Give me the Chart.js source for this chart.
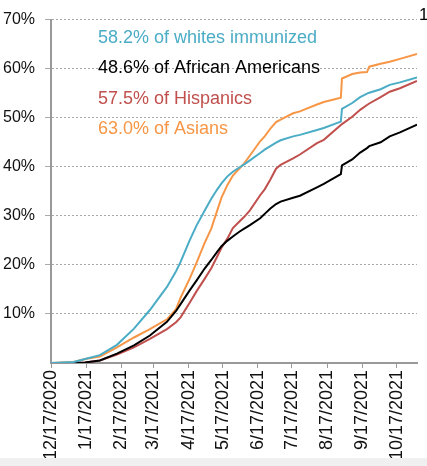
<!DOCTYPE html>
<html>
<head>
<meta charset="utf-8">
<script src="https://cdn.jsdelivr.net/npm/chart.js@4"></script>
<style>
  html, body { margin: 0; padding: 0; background: #fff; }
  #wrap { position: relative; width: 427px; height: 466px; overflow: hidden; }
  #strip { position: absolute; left: 0; top: 458px; width: 427px; height: 8px; background: #f0f0f0; }
</style>
</head>
<body>
<div id="wrap">
  <canvas id="chart" width="427" height="466"></canvas>
  <div id="strip"></div>
</div>
<script>
// days since 12/17/2020
const days = [0, 20, 30, 43, 58, 73, 87, 102, 110, 114, 122, 128, 135, 141, 146, 150, 155, 160, 166, 170,
              175, 184, 188, 193, 198, 202, 213, 219, 234, 240, 255, 256, 265, 272, 278, 280, 290, 298, 307, 322];

const whites = [0, 0.2, 0.8, 1.6, 3.7, 7, 10.8, 15.5, 18.7, 20.6, 25, 28, 31, 33.5, 35.3, 36.6, 38, 39, 39.9, 40.5,
                41.3, 42.8, 43.5, 44.2, 44.9, 45.4, 46.2, 46.5, 47.5, 47.9, 49.2, 51.8, 53, 54.2, 54.9, 55.1, 55.8, 56.7, 57.2, 58.2];
const africanAmericans = [0, 0, 0.1, 0.5, 1.9, 3.6, 5.6, 8.4, 10.6, 12, 14.8, 16.8, 19.2, 21, 22.6, 23.8, 24.9, 25.8, 26.8, 27.4,
                28.1, 29.5, 30.4, 31.5, 32.4, 32.9, 33.7, 34.1, 35.8, 36.5, 38.5, 40.3, 41.5, 42.9, 43.8, 44.2, 45, 46.2, 47, 48.6];
const hispanics = [0, 0, 0.1, 0.5, 1.7, 3.2, 4.9, 6.9, 8.3, 9.3, 12.3, 14.6, 17.1, 19.3, 21.6, 23.5, 25.3, 27.5, 28.9, 29.8,
                31.1, 34.2, 35.4, 37.4, 39.6, 40.4, 41.7, 42.5, 44.8, 45.5, 48.5, 48.7, 50.2, 51.6, 52.6, 52.9, 54.2, 55.3, 56, 57.5];
const asians = [0, 0.2, 0.8, 1.3, 3.2, 5.2, 6.9, 8.9, 11, 13.3, 17.2, 20.4, 24.4, 27.4, 30.9, 33.7, 36.2, 38.2, 39.7, 40.7,
                42.3, 45.2, 46.2, 47.8, 49.1, 49.6, 50.9, 51.3, 52.7, 53.2, 54.1, 58, 58.9, 59.2, 59.3, 60.4, 61, 61.4, 62, 63];

const tickDays = [0, 31, 62, 90, 121, 151, 182, 212, 243, 274, 304];
const tickLabels = ['12/17/2020', '1/17/2021', '2/17/2021', '3/17/2021', '4/17/2021', '5/17/2021',
                    '6/17/2021', '7/17/2021', '8/17/2021', '9/17/2021', '10/17/2021'];

const seriesNames = ['58.2% of whites immunized', '48.6% of African Americans', '57.5% of Hispanics', '63.0% of Asians'];
const colors = ['#4bacc6', '#000000', '#c0504d', '#f79646'];

const FONT = '"Liberation Sans", Arial, sans-serif';

function toPoints(values) {
    return days.map((d, i) => ({ x: d, y: values[i] }));
}

const notes = {
    id: 'notes',
    afterDraw(chart) {
        const ctx = chart.ctx;
        ctx.save();
        ctx.font = '18px ' + FONT;
        ctx.textBaseline = 'middle';
        seriesNames.forEach((t, i) => {
            ctx.fillStyle = colors[i];
            ctx.fillText(t, 98, 38 + i * 30.5);
        });
        ctx.fillStyle = '#000';
        ctx.font = '17px ' + FONT;
        ctx.fillText('1', 419, 15);
        ctx.restore();
    }
};

const ctx = document.getElementById('chart').getContext('2d');
const myChart = new Chart(ctx, {
    type: 'line',
    data: {
        datasets: [
            { label: seriesNames[0], data: toPoints(whites), borderColor: colors[0] },
            { label: seriesNames[1], data: toPoints(africanAmericans), borderColor: colors[1] },
            { label: seriesNames[2], data: toPoints(hispanics), borderColor: colors[2] },
            { label: seriesNames[3], data: toPoints(asians), borderColor: colors[3] }
        ]
    },
    options: {
        responsive: false,
        animation: false,
        elements: {
            line: { borderWidth: 2, tension: 0, fill: false },
            point: { radius: 0 }
        },
        layout: { padding: { top: 7, right: 10, left: 0, bottom: 0 } },
        plugins: {
            legend: { display: false },
            tooltip: { enabled: false }
        },
        scales: {
            x: {
                type: 'linear',
                min: 0,
                max: 322,
                afterBuildTicks: scale => { scale.ticks = tickDays.map(v => ({ value: v })); },
                afterFit: scale => { scale.height = 103; },
                ticks: {
                    autoSkip: false,
                    minRotation: 90,
                    maxRotation: 90,
                    padding: 2,
                    color: '#111',
                    font: { family: FONT, size: 18 },
                    callback: v => tickLabels[tickDays.indexOf(v)]
                },
                grid: { drawOnChartArea: false, drawTicks: true, tickLength: 5, color: '#999', lineWidth: 1 },
                border: { color: '#999', width: 2 }
            },
            y: {
                min: 0,
                max: 70,
                afterFit: scale => { scale.width = 51; },
                ticks: {
                    stepSize: 10,
                    padding: 10,
                    color: '#111',
                    font: { family: FONT, size: 16 },
                    callback: v => v === 0 ? '' : v + '%'
                },
                grid: {
                    color: c => c.tick && c.tick.value === 0 ? 'rgba(0,0,0,0)' : '#aaaaaa',
                    lineWidth: 1,
                    tickLength: 6
                },
                border: { color: '#999', width: 2, dash: [2, 2] }
            }
        }
    },
    plugins: [notes]
});
</script>
</body>
</html>
